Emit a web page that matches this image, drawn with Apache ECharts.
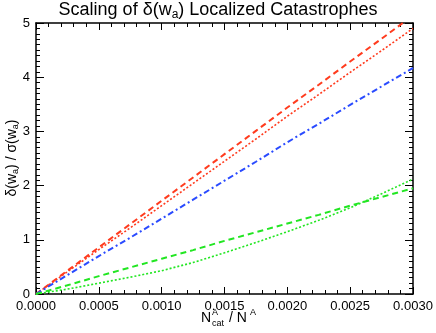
<!DOCTYPE html>
<html>
<head>
<meta charset="utf-8">
<script src="https://cdn.jsdelivr.net/npm/echarts@6/dist/echarts.min.js"></script>
<style>
  html, body { margin: 0; padding: 0; background: #fff; }
  #chart { width: 436px; height: 333px; }
</style>
</head>
<body>
<div id="chart"></div>
<script>
// N_cat^A / N^A values
const xValues = [0, 0.00025, 0.0005, 0.00075, 0.001, 0.00125, 0.0015, 0.00175, 0.002, 0.00225, 0.0025, 0.00275, 0.003];
// delta(w_a)/sigma(w_a)
const redDashed = [0, 0.43, 0.86, 1.29, 1.72, 2.15, 2.58, 3.01, 3.44, 3.86, 4.29, 4.71, 5.14];
const redDotted = [0, 0.41, 0.82, 1.22, 1.63, 2.04, 2.45, 2.86, 3.28, 3.68, 4.09, 4.49, 4.9];
const blueDashDot = [0, 0.35, 0.7, 1.04, 1.39, 1.74, 2.09, 2.44, 2.8, 3.14, 3.49, 3.83, 4.17];
const greenDashed = [0, 0.16, 0.33, 0.49, 0.65, 0.81, 0.98, 1.14, 1.3, 1.46, 1.63, 1.79, 1.95];
const greenDotted = [0, 0.09, 0.2, 0.31, 0.43, 0.58, 0.76, 0.95, 1.15, 1.36, 1.59, 1.85, 2.12];

const xTicks = { min: 0, max: 0.003, interval: 0.0005 };
const yTicks = { min: 0, max: 5, interval: 1 };

const FONT = 'Liberation Sans';
const pairs = ys => xValues.map((x, i) => [x, ys[i]]);

const chart = echarts.init(document.getElementById('chart'));

function axisX(pos, show) {
  return {
    type: 'value', position: pos, min: xTicks.min, max: xTicks.max, interval: xTicks.interval,
    axisLine: { show: true, onZero: false, lineStyle: { color: '#000', width: 1.5 } },
    axisTick: { show: true, inside: true, length: 7, lineStyle: { color: '#000', width: 1 } },
    minorTick: { show: true, splitNumber: 5, length: 4, lineStyle: { color: '#000', width: 1 } },
    splitLine: { show: false },
    axisLabel: {
      show: show, color: '#000', fontFamily: FONT, fontSize: 13, margin: 6,
      formatter: v => v.toFixed(4)
    }
  };
}
function axisY(pos, show) {
  return {
    type: 'value', position: pos, min: yTicks.min, max: yTicks.max, interval: yTicks.interval,
    axisLine: { show: true, onZero: false, lineStyle: { color: '#000', width: 1.5 } },
    axisTick: { show: true, inside: true, length: 8, lineStyle: { color: '#000', width: 1 } },
    minorTick: { show: true, splitNumber: 10, length: 4, lineStyle: { color: '#000', width: 1 } },
    splitLine: { show: false },
    axisLabel: { show: show, color: '#000', fontFamily: FONT, fontSize: 13, margin: 6 }
  };
}

function line(name, data, color, type, width) {
  return {
    name, type: 'line', data: pairs(data), showSymbol: false, symbol: 'none',
    clip: true, animation: false,
    lineStyle: { color, type, width, cap: 'butt' }
  };
}

chart.setOption({
  animation: false,
  backgroundColor: '#fff',
  grid: { left: 36, right: 23, top: 23, bottom: 39, containLabel: false },
  xAxis: [axisX('bottom', true), axisX('top', false)],
  yAxis: [axisY('left', true), axisY('right', false)],
  graphic: [
    {
      type: 'text', left: 'center', top: 1,
      style: {
        text: 'Scaling of δ(w{sub|a}) Localized Catastrophes',
        fontFamily: FONT, fontSize: 18, fill: '#000',
        rich: { sub: { fontSize: 12, fontFamily: FONT, padding: [9, 0, 0, 0] } }
      }
    },
    {
      type: 'text', x: 12, y: 158, rotation: Math.PI / 2,
      style: {
        text: 'δ(w{sub|a}) / σ(w{sub|a})',
        fontFamily: FONT, fontSize: 14, fill: '#000', align: 'center', verticalAlign: 'middle',
        rich: { sub: { fontSize: 9, fontFamily: FONT, padding: [8, 0, 0, 0] } }
      }
    },
    {
      type: 'group', x: 201, y: 311,
      children: [
        { type: 'text', x: 0, y: 0, style: { text: 'N', fontFamily: FONT, fontSize: 14, fill: '#000' } },
        { type: 'text', x: 11, y: -3, style: { text: 'A', fontFamily: FONT, fontSize: 9, fill: '#000' } },
        { type: 'text', x: 11, y: 8, style: { text: 'cat', fontFamily: FONT, fontSize: 9, fill: '#000' } },
        { type: 'text', x: 28, y: 0, style: { text: '/ N', fontFamily: FONT, fontSize: 14, fill: '#000' } },
        { type: 'text', x: 49, y: -3, style: { text: 'A', fontFamily: FONT, fontSize: 9, fill: '#000' } }
      ]
    }
  ],
  series: [
    line('red dashed', redDashed, '#ff3b1e', [6, 4], 2),
    line('red dotted', redDotted, '#ff3b1e', [2, 2], 1.6),
    line('blue dash dot', blueDashDot, '#2a4bff', [6, 3, 2, 3], 2),
    line('green dashed', greenDashed, '#22e622', [6, 4], 2),
    line('green dotted', greenDotted, '#22e622', [2, 2], 1.6)
  ]
});
</script>
</body>
</html>
